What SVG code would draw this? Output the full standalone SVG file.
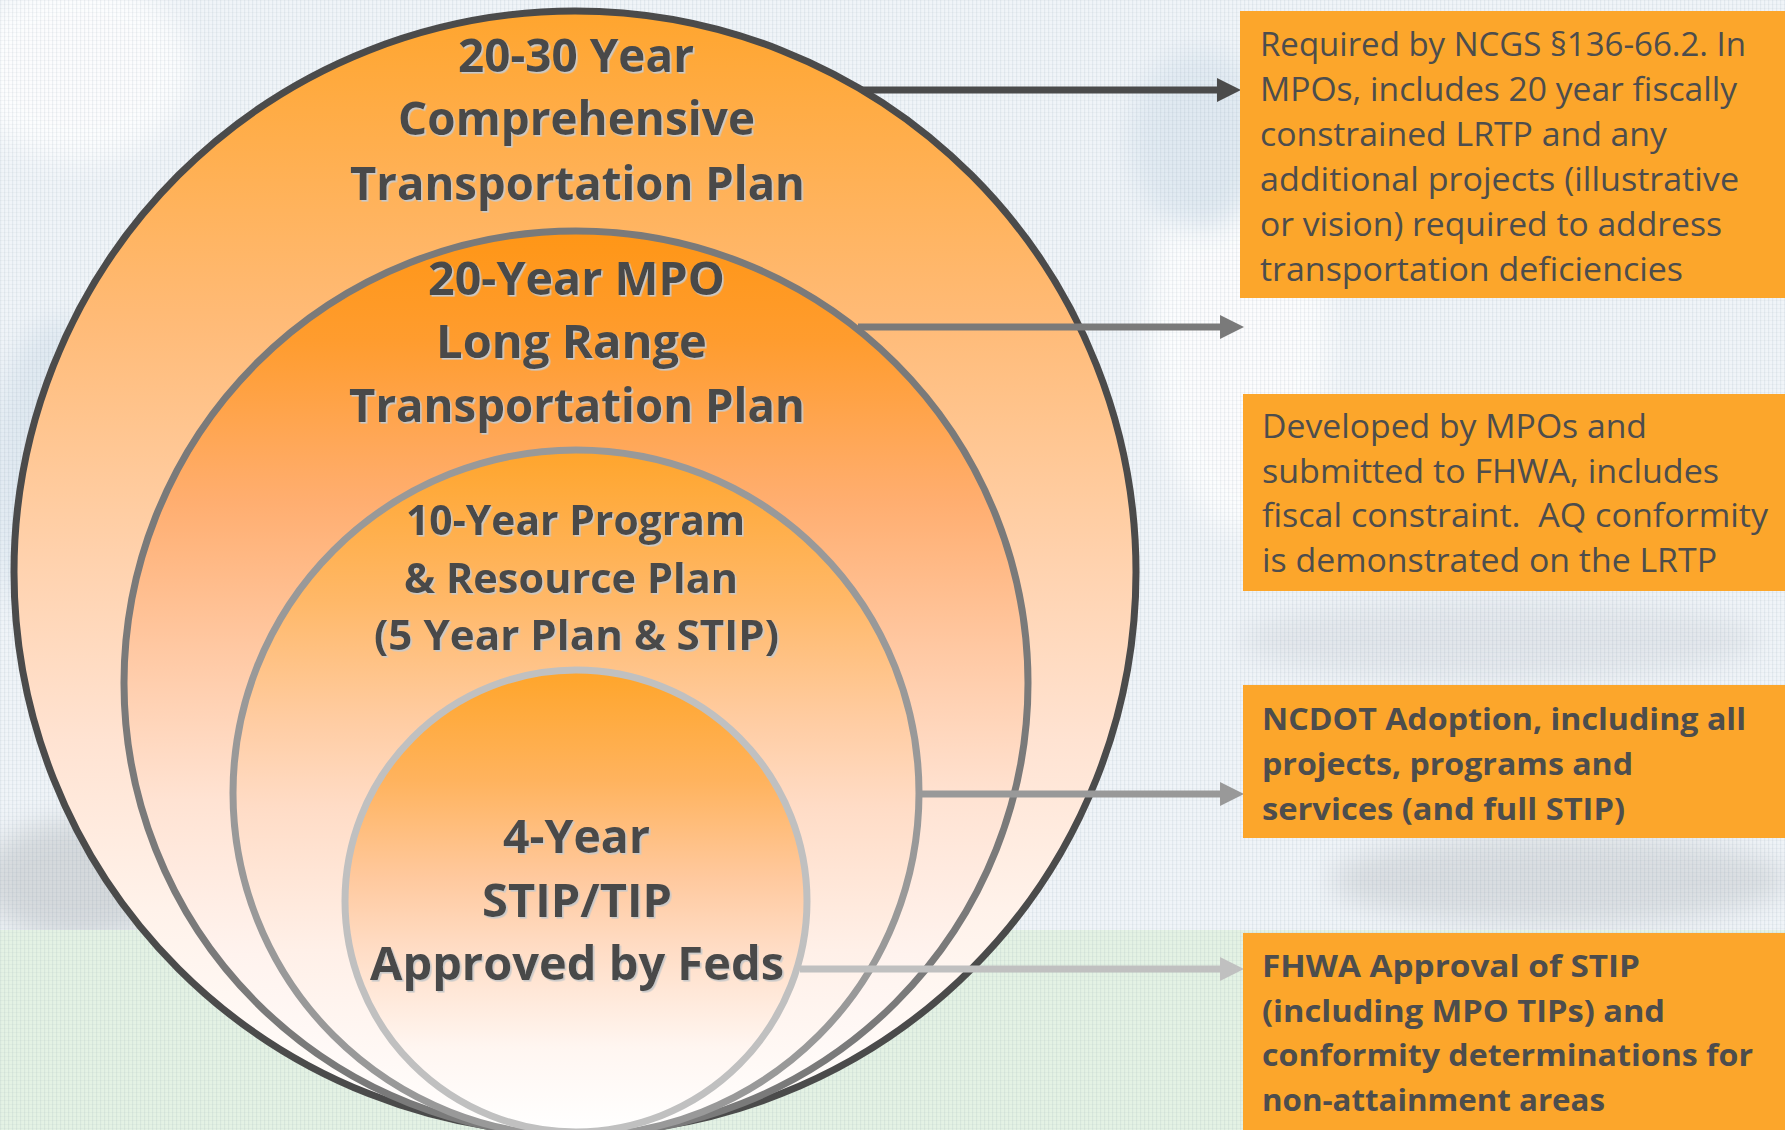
<svg xmlns="http://www.w3.org/2000/svg" width="1785" height="1130" viewBox="0 0 1785 1130">
<style>
.lbl{font-family:"Open Sans","Noto Sans","Liberation Sans",sans-serif;font-weight:700;fill:#4a4a4a;filter:url(#ts)}
.big{font-size:46px}
.mid{font-size:42px}
.box{fill:#FCA62B}
.bt{font-family:"Open Sans","Noto Sans","Liberation Sans",sans-serif;font-size:32px;fill:#4d4d4d}
.bb{font-family:"Open Sans","Noto Sans","Liberation Sans",sans-serif;font-size:31px;font-weight:700;fill:#4d4d4d}
.conn{fill:none;stroke-width:7}
</style>
<defs>
<pattern id="grid" width="4" height="4" patternUnits="userSpaceOnUse">
<rect x="0" y="0" width="1.2" height="4" fill="#5a7890" opacity="0.09"/>
<rect x="0" y="0" width="4" height="1" fill="#5a7890" opacity="0.05"/>
</pattern>
<filter id="blur" x="-50%" y="-50%" width="200%" height="200%"><feGaussianBlur stdDeviation="14"/></filter>
<filter id="ts" x="-5%" y="-20%" width="110%" height="140%"><feDropShadow dx="1.6" dy="1.6" stdDeviation="0.4" flood-color="#c9c9c9" flood-opacity="1"/></filter>
<linearGradient id="gOuter" x1="0" y1="0" x2="0" y2="1">
<stop offset="0" stop-color="#FFA52E"/><stop offset="0.28" stop-color="#FFBB78"/><stop offset="0.5" stop-color="#FFD3B0"/><stop offset="0.65" stop-color="#FFE3D2"/><stop offset="0.8" stop-color="#FFF2EA"/><stop offset="1" stop-color="#FFFFFF"/>
</linearGradient>
<linearGradient id="gSecond" x1="0" y1="0" x2="0" y2="1">
<stop offset="0" stop-color="#FF9616"/><stop offset="0.12" stop-color="#FF9C2E"/><stop offset="0.3" stop-color="#FFAE70"/><stop offset="0.46" stop-color="#FFC8A2"/><stop offset="0.63" stop-color="#FFE3D3"/><stop offset="0.8" stop-color="#FFF3EE"/><stop offset="1" stop-color="#FFFFFF"/>
</linearGradient>
<linearGradient id="gThird" x1="0" y1="0" x2="0" y2="1">
<stop offset="0" stop-color="#FFA52C"/><stop offset="0.22" stop-color="#FFB868"/><stop offset="0.4" stop-color="#FFCDA4"/><stop offset="0.52" stop-color="#FFDCC6"/><stop offset="0.73" stop-color="#FFF0E8"/><stop offset="1" stop-color="#FFFFFF"/>
</linearGradient>
<linearGradient id="gInner" x1="0" y1="0" x2="0" y2="1">
<stop offset="0" stop-color="#FFA52A"/><stop offset="0.24" stop-color="#FFB35E"/><stop offset="0.45" stop-color="#FFC99E"/><stop offset="0.6" stop-color="#FFDCC4"/><stop offset="0.82" stop-color="#FFF6F1"/><stop offset="1" stop-color="#FFFFFF"/>
</linearGradient>
<marker id="ah1" markerUnits="userSpaceOnUse" markerWidth="24" markerHeight="24" refX="1" refY="12" orient="auto"><path d="M0,0 L24,12 L0,24 Z" fill="#4b4b4b"/></marker>
<marker id="ah2" markerUnits="userSpaceOnUse" markerWidth="24" markerHeight="24" refX="1" refY="12" orient="auto"><path d="M0,0 L24,12 L0,24 Z" fill="#7a7a7a"/></marker>
<marker id="ah3" markerUnits="userSpaceOnUse" markerWidth="24" markerHeight="24" refX="1" refY="12" orient="auto"><path d="M0,0 L24,12 L0,24 Z" fill="#999999"/></marker>
<marker id="ah4" markerUnits="userSpaceOnUse" markerWidth="24" markerHeight="24" refX="1" refY="12" orient="auto"><path d="M0,0 L24,12 L0,24 Z" fill="#c0c0c0"/></marker>
</defs>

<g id="background">
<rect x="0" y="0" width="1785" height="1130" fill="#f0f4f8"/>
<g filter="url(#blur)" opacity="0.8">
<ellipse cx="80" cy="70" rx="110" ry="90" fill="#ffffff"/>
<ellipse cx="1240" cy="330" rx="90" ry="200" fill="#ffffff"/>
<ellipse cx="1200" cy="140" rx="70" ry="90" fill="#dde7f0"/>
<ellipse cx="60" cy="480" rx="70" ry="160" fill="#dce6ef"/>
<ellipse cx="1500" cy="640" rx="260" ry="40" fill="#dfe3e8"/>
<ellipse cx="1560" cy="880" rx="230" ry="45" fill="#d4d8dc"/>
<ellipse cx="80" cy="880" rx="100" ry="60" fill="#cfd3d6"/>
</g>
<rect x="0" y="930" width="1785" height="200" fill="#e4f2e4"/>
<rect x="0" y="0" width="1785" height="1130" fill="url(#grid)"/>
</g>

<g id="node-comprehensive">
<circle cx="575" cy="572" r="561" fill="url(#gOuter)" stroke="#4b4b4b" stroke-width="7"/>
<text class="lbl big" x="458" y="72" textLength="236" lengthAdjust="spacingAndGlyphs">20-30 Year</text>
<text class="lbl big" x="398" y="135" textLength="357" lengthAdjust="spacingAndGlyphs">Comprehensive</text>
<text class="lbl big" x="350" y="200" textLength="455" lengthAdjust="spacingAndGlyphs">Transportation Plan</text>
</g>

<g id="node-lrtp">
<circle cx="576" cy="683" r="452" fill="url(#gSecond)" stroke="#7a7a7a" stroke-width="7"/>
<text class="lbl big" x="428" y="295" textLength="297" lengthAdjust="spacingAndGlyphs">20-Year MPO</text>
<text class="lbl big" x="436" y="358" textLength="271" lengthAdjust="spacingAndGlyphs">Long Range</text>
<text class="lbl big" x="349" y="422" textLength="456" lengthAdjust="spacingAndGlyphs">Transportation Plan</text>
</g>

<g id="node-program">
<circle cx="576" cy="793" r="343" fill="url(#gThird)" stroke="#999999" stroke-width="7"/>
<text class="lbl mid" x="406" y="535" textLength="339" lengthAdjust="spacingAndGlyphs">10-Year Program</text>
<text class="lbl mid" x="404" y="593" textLength="334" lengthAdjust="spacingAndGlyphs">&amp; Resource Plan</text>
<text class="lbl mid" x="374" y="650" textLength="405" lengthAdjust="spacingAndGlyphs">(5 Year Plan &amp; STIP)</text>
</g>

<g id="node-stip">
<circle cx="576" cy="901" r="231" fill="url(#gInner)" stroke="#c0c0c0" stroke-width="7"/>
<text class="lbl big" x="503" y="853" textLength="147" lengthAdjust="spacingAndGlyphs">4-Year</text>
<text class="lbl big" x="482" y="917" textLength="190" lengthAdjust="spacingAndGlyphs">STIP/TIP</text>
<text class="lbl big" x="370" y="980" textLength="414" lengthAdjust="spacingAndGlyphs">Approved by Feds</text>
</g>

<g id="connectors">
<line class="conn" x1="862" y1="90" x2="1218" y2="90" stroke="#4b4b4b" marker-end="url(#ah1)"/>
<line class="conn" x1="858" y1="327" x2="1221" y2="327" stroke="#7a7a7a" marker-end="url(#ah2)"/>
<line class="conn" x1="918" y1="794" x2="1221" y2="794" stroke="#999999" marker-end="url(#ah3)"/>
<line class="conn" x1="800" y1="969" x2="1221" y2="969" stroke="#c0c0c0" marker-end="url(#ah4)"/>
</g>

<g id="box-ctp">
<rect class="box" x="1240" y="11" width="545" height="287"/>
<text class="bt" x="1260" y="55.5" textLength="486" lengthAdjust="spacingAndGlyphs">Required by NCGS §136-66.2. In</text>
<text class="bt" x="1260" y="100.5" textLength="477" lengthAdjust="spacingAndGlyphs">MPOs, includes 20 year fiscally</text>
<text class="bt" x="1260" y="145.5" textLength="407" lengthAdjust="spacingAndGlyphs">constrained LRTP and any</text>
<text class="bt" x="1260" y="190.5" textLength="479" lengthAdjust="spacingAndGlyphs">additional projects (illustrative</text>
<text class="bt" x="1260" y="235.5" textLength="462" lengthAdjust="spacingAndGlyphs">or vision) required to address</text>
<text class="bt" x="1260" y="280.5" textLength="423" lengthAdjust="spacingAndGlyphs">transportation deficiencies</text>
</g>

<g id="box-lrtp">
<rect class="box" x="1243" y="394" width="542" height="197"/>
<text class="bt" x="1262" y="438" textLength="385" lengthAdjust="spacingAndGlyphs">Developed by MPOs and</text>
<text class="bt" x="1262" y="482.5" textLength="457" lengthAdjust="spacingAndGlyphs">submitted to FHWA, includes</text>
<text class="bt" x="1262" y="527" textLength="506" lengthAdjust="spacingAndGlyphs" xml:space="preserve">fiscal constraint.  AQ conformity</text>
<text class="bt" x="1262" y="572" textLength="455" lengthAdjust="spacingAndGlyphs">is demonstrated on the LRTP</text>
</g>

<g id="box-program">
<rect class="box" x="1243" y="685" width="542" height="153"/>
<text class="bb" x="1262" y="730" textLength="484" lengthAdjust="spacingAndGlyphs">NCDOT Adoption, including all</text>
<text class="bb" x="1262" y="775" textLength="371" lengthAdjust="spacingAndGlyphs">projects, programs and</text>
<text class="bb" x="1262" y="820" textLength="363" lengthAdjust="spacingAndGlyphs">services (and full STIP)</text>
</g>

<g id="box-stip">
<rect class="box" x="1243" y="933" width="542" height="197"/>
<text class="bb" x="1262" y="977" textLength="378" lengthAdjust="spacingAndGlyphs">FHWA Approval of STIP</text>
<text class="bb" x="1262" y="1021.5" textLength="403" lengthAdjust="spacingAndGlyphs">(including MPO TIPs) and</text>
<text class="bb" x="1262" y="1066" textLength="491" lengthAdjust="spacingAndGlyphs">conformity determinations for</text>
<text class="bb" x="1262" y="1110.5" textLength="343" lengthAdjust="spacingAndGlyphs">non-attainment areas</text>
</g>
</svg>
